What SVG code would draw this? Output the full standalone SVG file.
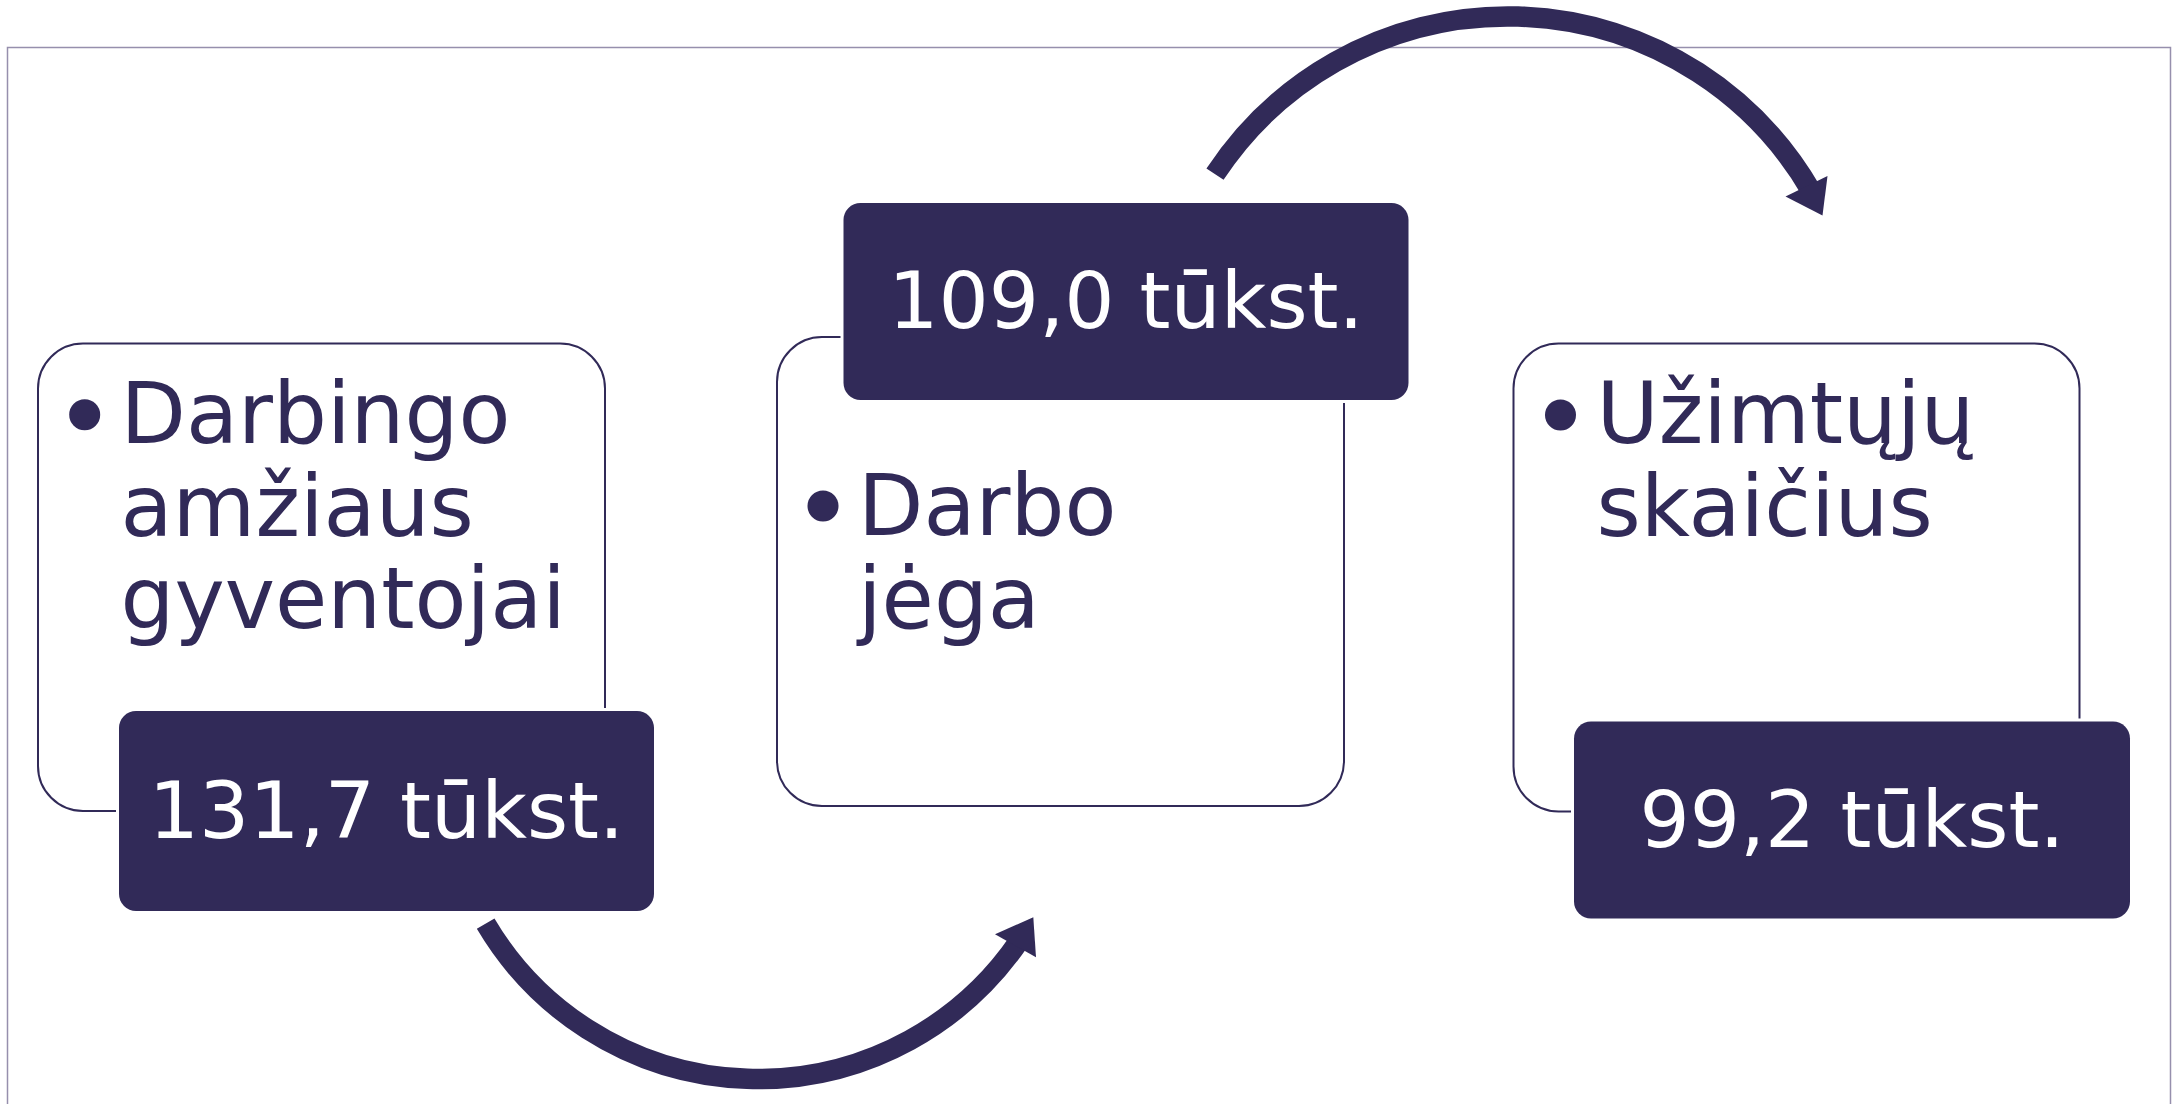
<svg xmlns="http://www.w3.org/2000/svg" width="2177" height="1104" viewBox="0 0 2177 1104">
  <style>
    .frame { fill: none; stroke: #968fad; stroke-width: 1.5; }
    .card { fill: #ffffff; stroke: #312a58; stroke-width: 2; }
    .halo { fill: #ffffff; }
    .value { fill: #312a58; }
    .bullet { fill: #312a58; }
    .label { font-family: "DejaVu Sans", Verdana, sans-serif; font-size: 85px; fill: #312a58; }
    .num { font-family: "DejaVu Sans", Verdana, sans-serif; font-size: 79px; fill: #ffffff; text-anchor: middle; }
    .arc { fill: none; stroke: #312a58; stroke-width: 20.5; stroke-linecap: butt; }
    .head { fill: #312a58; }
  </style>

  <path class="frame" d="M7.5 1110 V47.5 H2170.5 V1110"/>

  <g id="node-darbingo-amziaus">
    <rect class="card" x="38" y="343.5" width="567" height="467.5" rx="45" ry="45"/>
    <circle class="bullet" cx="84.7" cy="414.7" r="15.5"/>
    <text class="label" x="120.5" y="443.3">Darbingo</text>
    <text class="label" x="120.5" y="535.5">amžiaus</text>
    <text class="label" x="120.5" y="628">gyventojai</text>
    <rect class="halo" x="116" y="708" width="541" height="206" rx="20" ry="20"/>
    <rect class="value" x="119" y="711" width="535" height="200" rx="17" ry="17"/>
    <text class="num" x="386.5" y="838">131,7 tūkst.</text>
  </g>

  <g id="node-darbo-jega">
    <rect class="card" x="777" y="337" width="567" height="469" rx="45" ry="45"/>
    <circle class="bullet" cx="823" cy="506" r="15.5"/>
    <text class="label" x="858" y="534.5">Darbo</text>
    <text class="label" x="858" y="628">jėga</text>
    <rect class="halo" x="840.5" y="200" width="571" height="203" rx="20" ry="20"/>
    <rect class="value" x="843.5" y="203" width="565" height="197" rx="17" ry="17"/>
    <text class="num" x="1126" y="328">109,0 tūkst.</text>
  </g>

  <g id="node-uzimtuju">
    <rect class="card" x="1513.5" y="343.5" width="566" height="468" rx="45" ry="45"/>
    <circle class="bullet" cx="1560.5" cy="415" r="15.5"/>
    <text class="label" x="1596.5" y="443.3">Užimtųjų</text>
    <text class="label" x="1596.5" y="535.5">skaičius</text>
    <rect class="halo" x="1571" y="718.5" width="562" height="203" rx="20" ry="20"/>
    <rect class="value" x="1574" y="721.5" width="556" height="197" rx="17" ry="17"/>
    <text class="num" x="1852" y="847">99,2 tūkst.</text>
  </g>

  <g id="connectors">
    <path class="arc" d="M485.65 923.65 A316.2 316.2 0 0 0 1018.5 941.9"/>
    <polygon class="head" points="995,934.3 1033.3,917.3 1036,957.3"/>
    <path class="arc" d="M1215 174.15 A350.7 350.7 0 0 1 1811.5 191.65"/>
    <polygon class="head" points="1785.5,196.5 1827.5,176 1822.5,215.5"/>
  </g>
</svg>
